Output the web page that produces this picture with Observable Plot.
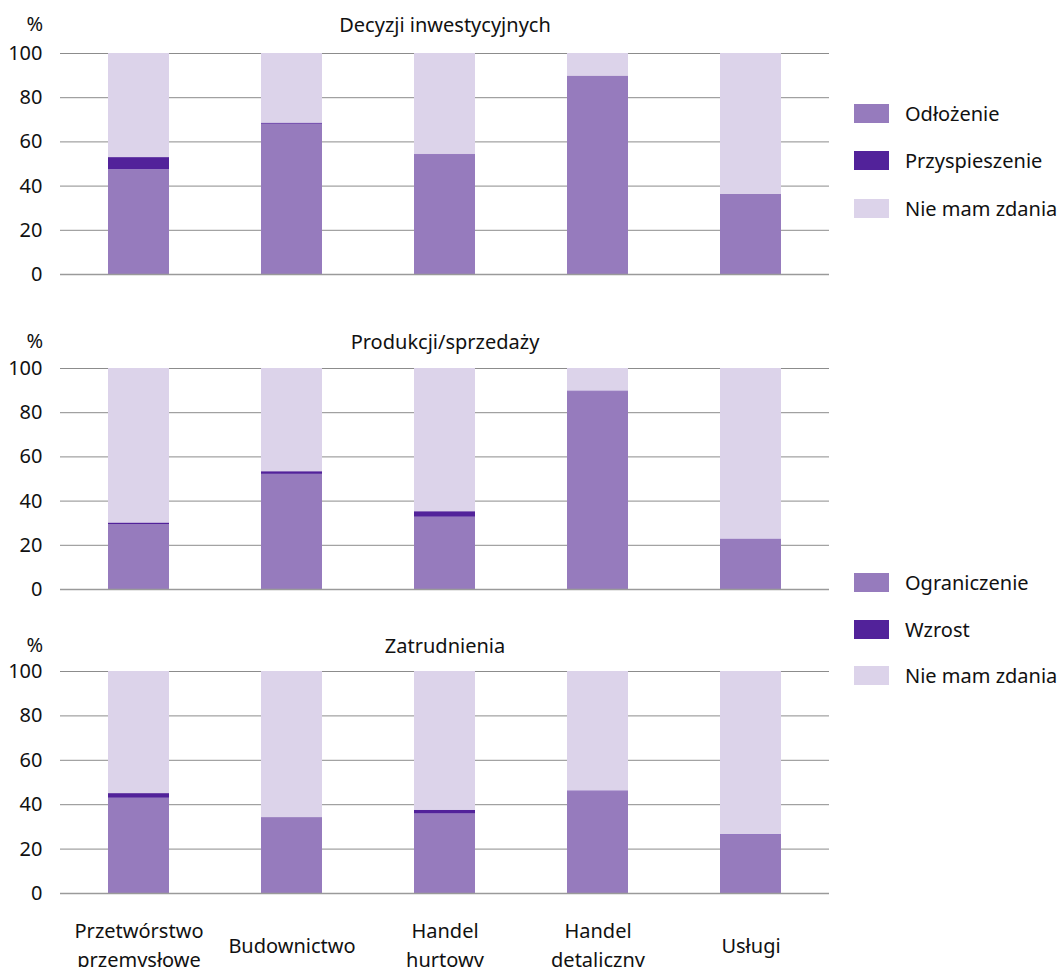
<!DOCTYPE html>
<html><head><meta charset="utf-8">
<script src="https://cdn.jsdelivr.net/npm/d3@7"></script>
<script src="https://cdn.jsdelivr.net/npm/@observablehq/plot@0.6"></script>
<style>
body{margin:0;background:#fff;font-family:"Noto Sans",sans-serif;}
#root{position:relative;width:1057px;height:967px;overflow:hidden;background:#fff;}
.panel{position:absolute;left:0;overflow:visible;}
.legend{position:absolute;left:854px;}
.row{position:absolute;left:0;display:flex;align-items:center;white-space:nowrap;font-size:20px;color:#111;height:19px;}
.sw{width:35px;height:19px;margin-right:16px;flex:none;}
</style></head><body><div id="root"></div>
<script>
const categories = ["Przetwórstwo\nprzemysłowe","Budownictwo","Handel\nhurtowy","Handel\ndetaliczny","Usługi"];
const yTicks = [0,20,40,60,80,100];
const colors = ["#967bbd","#52229a","#dcd3ea"];

// Panel 1: Decyzji inwestycyjnych
const invTitle = "Decyzji inwestycyjnych";
const invSeries = ["Odłożenie","Przyspieszenie","Nie mam zdania"];
const invOdlozenie = [47.4,68.0,54.2,89.8,36.2];
const invPrzyspieszenie = [5.5,0.5,0.2,0,0];
const invNieMam = [47.1,31.5,45.6,10.2,63.8];

// Panel 2: Produkcji/sprzedaży
const prodTitle = "Produkcji/sprzedaży";
const prodSeries = ["Ograniczenie","Wzrost","Nie mam zdania"];
const prodOgraniczenie = [29.4,52.1,32.7,89.5,22.6];
const prodWzrost = [0.7,1.2,2.5,0.3,0.2];
const prodNieMam = [69.9,46.7,64.8,10.2,77.2];

// Panel 3: Zatrudnienia
const empTitle = "Zatrudnienia";
const empSeries = ["Ograniczenie","Wzrost","Nie mam zdania"];
const empOgraniczenie = [42.9,34.2,35.8,45.9,26.2];
const empWzrost = [2.1,0,1.7,0.3,0.3];
const empNieMam = [55.0,65.8,62.5,53.8,73.5];

const root = document.getElementById("root");

function makePanel({title, series, values, top, marginTop, marginBottom, plotH, titleDy, showX}) {
  const data = [];
  series.forEach((s, k) => categories.forEach((c, i) => data.push({category: c, series: s, value: values[k][i]})));
  const marks = [
    Plot.ruleY(yTicks.filter(d => d > 0), {stroke: "#8c8c8c", strokeWidth: 1}),
    Plot.barY(data, Plot.stackY({x: "category", y: "value", fill: "series", order: null})),
    Plot.ruleY([0], {stroke: "#9a9a9a", strokeWidth: 1.5}),
    Plot.axisY({ticks: yTicks, tickSize: 0, tickPadding: 18, fontSize: 20, fill: "#111", label: null}),
    Plot.text([title], {text: d => d, frameAnchor: "top", dy: titleDy, fontSize: 20, fill: "#111"}),
    Plot.text(["%"], {text: d => d, frameAnchor: "top-left", dx: -34, dy: titleDy - 1, fontSize: 20, fill: "#111"})
  ];
  if (showX) marks.push(Plot.axisX({tickSize: 0, tickPadding: 50, lineAnchor: "middle", lineHeight: 1.43, fontSize: 20, fill: "#111", label: null}));
  const chart = Plot.plot({
    width: 840,
    height: marginTop + plotH + marginBottom,
    marginTop, marginBottom, marginLeft: 60, marginRight: 11,
    style: {fontFamily: "Noto Sans", fontSize: "20px", color: "#111", background: "transparent", overflow: "visible"},
    x: {domain: categories, paddingInner: 0.6, paddingOuter: 0.31, axis: null},
    y: {domain: [0, 100], axis: null},
    color: {domain: series, range: colors},
    marks
  });
  chart.classList.add("panel");
  chart.style.top = top + "px";
  root.appendChild(chart);
}

function makeLegend(series, tops) {
  const lg = document.createElement("div");
  lg.className = "legend";
  series.forEach((s, k) => {
    const r = document.createElement("div");
    r.className = "row";
    r.style.top = tops[k] + "px";
    const sw = document.createElement("div");
    sw.className = "sw";
    sw.style.background = colors[k];
    const t = document.createElement("span");
    t.textContent = s;
    r.appendChild(sw); r.appendChild(t);
    lg.appendChild(r);
  });
  root.appendChild(lg);
}

makePanel({title: invTitle, series: invSeries, values: [invOdlozenie, invPrzyspieszenie, invNieMam], top: 0, marginTop: 53, marginBottom: 16, plotH: 221, titleDy: -36, showX: false});
makePanel({title: prodTitle, series: prodSeries, values: [prodOgraniczenie, prodWzrost, prodNieMam], top: 300, marginTop: 68, marginBottom: 16, plotH: 221, titleDy: -34, showX: false});
makePanel({title: empTitle, series: empSeries, values: [empOgraniczenie, empWzrost, empNieMam], top: 600, marginTop: 71, marginBottom: 74, plotH: 222, titleDy: -33, showX: true});

makeLegend(invSeries, [104, 151, 199]);
makeLegend(prodSeries, [573, 620, 666]);
</script></body></html>
